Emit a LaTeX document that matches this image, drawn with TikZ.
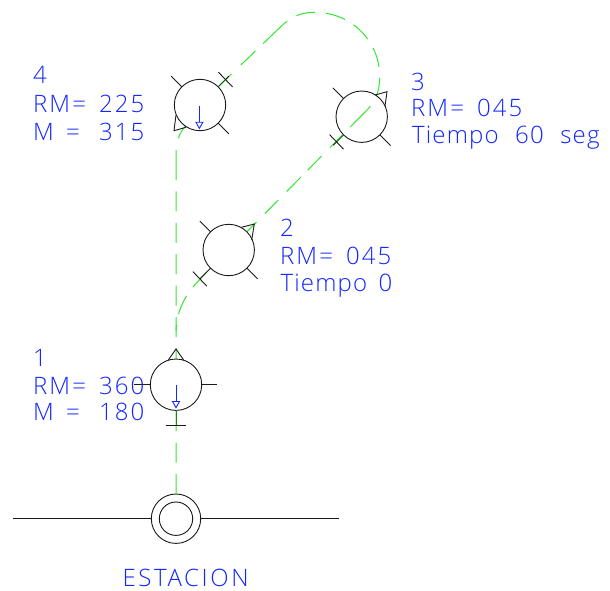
\documentclass[tikz,border=0pt]{standalone}
\usepackage{fontspec}
\usetikzlibrary{calc}
\newfontfamily\cadfont[LetterSpace=9]{Open Sans Light}
\newfontfamily\cadwide[LetterSpace=11]{Open Sans Light}
\newfontfamily\cadtime[LetterSpace=5]{Open Sans Light}
\definecolor{cadblue}{HTML}{1226FF}
\definecolor{cadgreen}{HTML}{30E830}
\definecolor{cadink}{HTML}{1A1A1A}
\definecolor{cadmix}{HTML}{125A12}
\newcommand{\rmval}[1]{\makebox[66pt][l]{RM=}#1}
\newcommand{\mval}[1]{\makebox[33pt][l]{M}\makebox[33pt][l]{=}#1}
\tikzset{
  cadline/.style={draw=cadink,line width=0.9pt},
  route/.style={draw=cadgreen,line width=1pt},
  stop/.style={circle,cadline,fill=white,minimum size=51.4pt,inner sep=0pt,outer sep=0pt},
  stopopen/.style={circle,cadline,minimum size=51.4pt,inner sep=0pt,outer sep=0pt},
  ring/.style={circle,cadline,inner sep=0pt,outer sep=0pt},
  label/.style={text=cadblue,inner sep=0pt,outer sep=0pt,anchor=base west,font=\cadfont\fontsize{24}{24}\selectfont},
  timelabel/.style={label,font=\cadtime\fontsize{24}{24}\selectfont},
  needle/.style={draw=cadblue,line width=0.9pt},
}
\begin{document}
\begin{tikzpicture}[x=1pt,y=-1pt]
\useasboundingbox (0,0) rectangle (610,590);
% coordinates of the nodes
\coordinate (P4) at (200,105);
\coordinate (P3) at (361.7,116.7);
\coordinate (P2) at (228.7,250);
\coordinate (P1) at (176,384.7);
\coordinate (PS) at (176,518.7);
% routes underneath
\node[ring,minimum size=49.4pt,fill=white] (st) at (PS) {};
\path (P4) node[stop,draw=none,fill=none] (c4) {};
\path (P2) node[stop,draw=none,fill=none] (c2) {};
\path (P3) node[stopopen,draw=none] (c3) {};
\draw[route,dash pattern=on 20 off 11.4 on 20 off 11.4 on 20 off 11.4 on 20 off 11.4 on 20 off 11.4 on 20 off 11.4 on 20 off 11.4 on 20 off 11.4 on 20 off 11.4 on 20 off 11.4 on 30 off 12 on 14 off 50]
  (st.north) -- (176,152) .. controls (176,142) and (179,134) .. (c4.235);
\coordinate (b0) at ($(c2.225)+(-4,4)$);
\draw[route,dash pattern=on 20 off 11 on 20 off 11 on 6 off 50]
  (b0) -- (193,287) .. controls (183,299) and (176,315) .. (176,332);
\draw[route,dash pattern=on 13.7 off 12 on 19 off 12 on 20 off 10 on 19.5 off 12 on 18 off 11 on 29 off 11.7 on 18.6 off 11 on 20 off 10.6 on 20 off 10 on 20 off 11 on 19 off 11 on 33 off 10.6 on 20 off 13 on 17 off 50]
  (c2.45) -- (368,109) .. controls (375,101) and (379.7,92) .. (379.7,77)
  .. controls (380,41) and (351,12.3) .. (315,12.3)
  .. controls (300,12.3) and (292,17) .. (283,24.5) -- (c4.45);
% stops
\node[stop] (n4) at (P4) {};
\node[stop] (n2) at (P2) {};
\node[stop] (n1) at (P1) {};
\node[stopopen] (n3) at (P3) {};
% stop 4
\draw[cadline] (n4.135) -- ++(-10.7,-10.7);
\draw[cadline] (n4.-45) -- ++(10.7,10.7);
\draw[draw=cadmix,line width=0.9pt] (n4.45) -- ++(7.3,-7.3) coordinate (t4);
\draw[cadline] (t4) -- ++(3.4,-3.4);
\draw[cadline] (t4) ++(-7,-7.3) -- ++(14,14.6);
\draw[cadline] (176,115) -- (174,130.7) -- (186,127.3);
% stop 3
\draw[cadline] (n3.135) -- ++(-10.7,-10.7);
\draw[cadline] (n3.-45) -- ++(10.7,10.7);
\draw[draw=cadmix,line width=0.9pt] (n3.225) -- ++(-7,7) coordinate (t3);
\draw[cadline] (t3) -- ++(-3.4,3.4);
\draw[cadline] (t3) ++(-7,-7.3) -- ++(14,14.6);
\draw[cadline] (375,95) -- (387,91.7) -- (385,106);
% stop 2
\draw[cadline] (n2.135) -- ++(-10.7,-10.7);
\draw[cadline] (n2.-45) -- ++(10.7,10.7);
\draw[cadline] (n2.225) -- ++(-10.7,10.7) coordinate (t2);
\draw[cadline] (t2) ++(-7,-7.3) -- ++(14,14.6);
\draw[cadline] (241.3,227.3) -- (254.3,224) -- (251.7,240);
% stop 1
\draw[cadline] (n1.west) -- ++(-16,0);
\draw[cadline] (n1.east) -- ++(15.5,0);
\draw[draw=cadgreen!55!black,line width=1pt] (n1.south) -- ++(0,15.5) coordinate (t1);
\draw[cadline] (t1) ++(-10.2,0) -- ++(20.4,0);
\draw[cadline] (168.3,360) -- (176,349) -- (183.7,360);
% needles
\draw[needle] (199.4,105.7) -- ++(0,16.5);
\draw[needle] (195.9,122.2) -- (202.9,122.2) -- (199.4,128.4) -- cycle;
\draw[needle] (176,385) -- ++(0,16.5);
\draw[needle] (172.5,401.5) -- (179.5,401.5) -- (176,407.7) -- cycle;
% station
\node[ring,minimum size=33.4pt] (si) at (PS) {};
\draw[cadline] (st.west) -- (12.7,518.7);
\draw[cadline] (st.east) -- (339,518.7);
% texts
\node[label] (l4a) at (33,83) {4};
\node[label] (l4b) at (33,112.7) {\rmval{225}};
\node[label] (l4c) at (33,140) {\mval{315}};
\node[label] (l3a) at (411,90) {3};
\node[label] (l3b) at (411,116) {\rmval{045}};
\node[timelabel] (l3c) at (412,143.3) {\spaceskip=16.5pt Tiempo 60 seg};
\node[label] (l2a) at (280,236.7) {2};
\node[label] (l2b) at (280,264) {\rmval{045}};
\node[timelabel] (l2c) at (280.5,291.7) {\spaceskip=11.5pt Tiempo 0};
\node[label] (l1a) at (33,366.7) {1};
\node[label] (l1b) at (33,394) {\rmval{360}};
\node[label] (l1c) at (33,420.7) {\mval{180}};
\node[label,font=\cadwide\fontsize{24}{24}\selectfont] (le) at (122.5,586.7) {ESTACION};
\end{tikzpicture}
\end{document}
